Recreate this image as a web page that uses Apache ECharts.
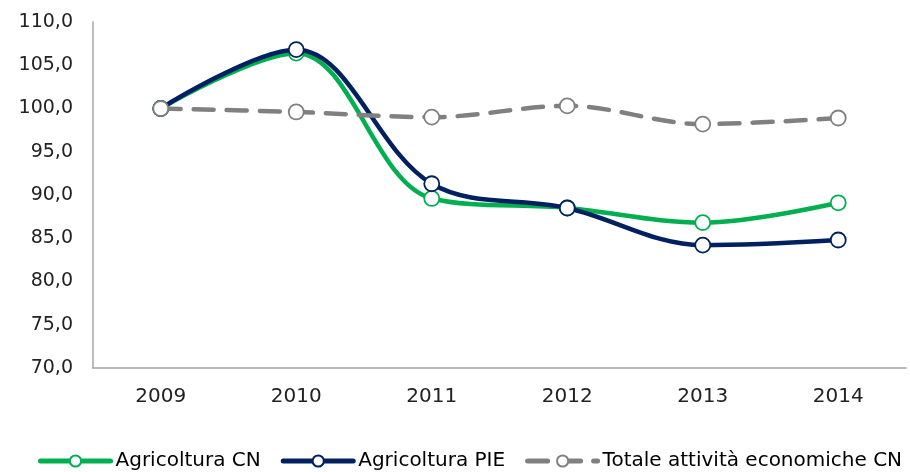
<!DOCTYPE html>
<html><head><meta charset="utf-8">
<script src="https://cdn.jsdelivr.net/npm/echarts@6/dist/echarts.min.js"></script>
<style>html,body{margin:0;padding:0;background:#fff}#c{width:910px;height:472px}</style>
</head><body><div id="c"></div>
<script>
const categories = ['2009','2010','2011','2012','2013','2014'];
const agricolturaCN = [100.0, 106.4, 89.6, 88.5, 86.8, 89.1];
const agricolturaPIE = [100.0, 106.8, 91.3, 88.5, 84.2, 84.8];
const totaleCN = [100.0, 99.6, 99.0, 100.3, 98.2, 98.9];
const seriesNames = ['Agricoltura CN', 'Agricoltura PIE', 'Totale attività economiche CN'];

const font = 'DejaVu Sans, Verdana, sans-serif';
function mk(name, data, color, dashed, z) {
  return {
    name, type: 'line', data, smooth: 0.35, z,
    symbol: 'circle', symbolSize: 15,
    itemStyle: { color: '#fff', borderColor: color, borderWidth: 1.8 },
    lineStyle: { color: color, width: 4.5, type: dashed ? [20, 13] : 'solid', cap: 'round' },
    emphasis: { disabled: true }
  };
}
const chart = echarts.init(document.getElementById('c'));
chart.setOption({
  animation: false,
  grid: { left: 93, right: 4, top: 22, bottom: 104 },
  legend: {
    bottom: 1, left: 38, width: 900, padding: 0,
    itemWidth: 70, itemHeight: 14, itemGap: 20,
    textStyle: { fontFamily: font, fontSize: 20, color: '#000' },
    lineStyle: { width: 5 },
    data: seriesNames
  },
  xAxis: {
    type: 'category', data: categories, boundaryGap: true,
    axisLine: { lineStyle: { color: '#a6a6a6', width: 1.5 } },
    axisTick: { show: false },
    axisLabel: { fontFamily: font, fontSize: 20, color: '#222', margin: 19 }
  },
  yAxis: {
    type: 'value', min: 70, max: 110, interval: 5,
    axisLine: { show: true, lineStyle: { color: '#a6a6a6', width: 1.5 } },
    axisTick: { show: false },
    splitLine: { show: false },
    axisLabel: { fontFamily: font, fontSize: 19, color: '#222', margin: 20,
      formatter: v => v.toFixed(1).replace('.', ',') }
  },
  series: [
    mk(seriesNames[0], agricolturaCN, '#00B050', false, 2),
    mk(seriesNames[1], agricolturaPIE, '#002060', false, 3),
    mk(seriesNames[2], totaleCN, '#808080', true, 4)
  ]
});
</script></body></html>
